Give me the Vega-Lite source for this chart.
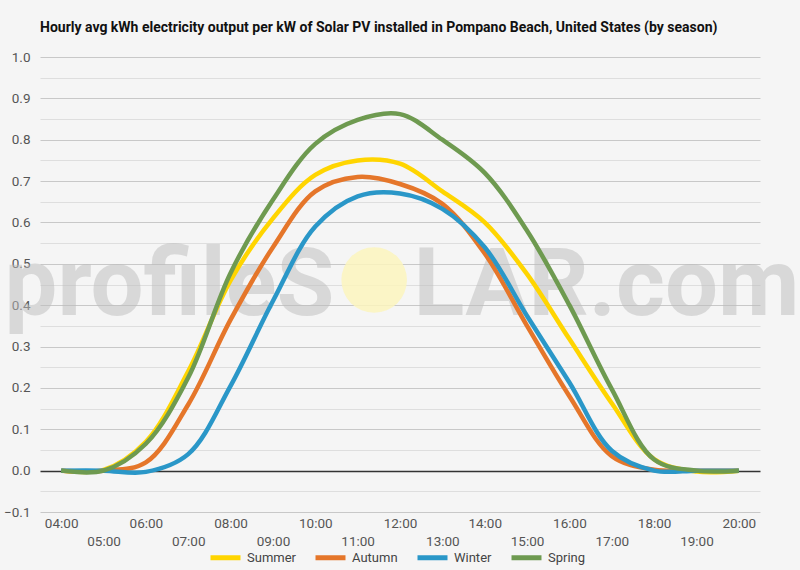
{
  "$schema": "https://vega.github.io/schema/vega-lite/v6.json",
  "width": 720,
  "height": 455,
  "autosize": {"type": "none"},
  "padding": {"left": 40, "top": 57, "right": 40, "bottom": 58},
  "background": "#f5f5f5",
  "title": {
    "text": "Hourly avg kWh electricity output per kW of Solar PV installed in Pompano Beach, United States (by season)",
    "anchor": "start",
    "frame": "group",
    "font": "Roboto",
    "fontSize": 14,
    "fontWeight": "bold",
    "color": "#111111",
    "offset": 15
  },
  "datasets": {
    "solar": [
      {"hour": 4, "season": "Summer", "kwh": 0},
      {"hour": 5, "season": "Summer", "kwh": 0.002},
      {"hour": 6, "season": "Summer", "kwh": 0.07},
      {"hour": 7, "season": "Summer", "kwh": 0.24},
      {"hour": 8, "season": "Summer", "kwh": 0.46},
      {"hour": 9, "season": "Summer", "kwh": 0.61},
      {"hour": 10, "season": "Summer", "kwh": 0.715},
      {"hour": 11, "season": "Summer", "kwh": 0.75},
      {"hour": 12, "season": "Summer", "kwh": 0.742},
      {"hour": 13, "season": "Summer", "kwh": 0.675},
      {"hour": 14, "season": "Summer", "kwh": 0.6},
      {"hour": 15, "season": "Summer", "kwh": 0.475},
      {"hour": 16, "season": "Summer", "kwh": 0.318},
      {"hour": 17, "season": "Summer", "kwh": 0.163},
      {"hour": 18, "season": "Summer", "kwh": 0.028},
      {"hour": 19, "season": "Summer", "kwh": -0.002},
      {"hour": 20, "season": "Summer", "kwh": 0},
      {"hour": 4, "season": "Autumn", "kwh": 0},
      {"hour": 5, "season": "Autumn", "kwh": 0},
      {"hour": 6, "season": "Autumn", "kwh": 0.02},
      {"hour": 7, "season": "Autumn", "kwh": 0.16},
      {"hour": 8, "season": "Autumn", "kwh": 0.365},
      {"hour": 9, "season": "Autumn", "kwh": 0.54},
      {"hour": 10, "season": "Autumn", "kwh": 0.675},
      {"hour": 11, "season": "Autumn", "kwh": 0.71},
      {"hour": 12, "season": "Autumn", "kwh": 0.693},
      {"hour": 13, "season": "Autumn", "kwh": 0.645},
      {"hour": 14, "season": "Autumn", "kwh": 0.525},
      {"hour": 15, "season": "Autumn", "kwh": 0.35},
      {"hour": 16, "season": "Autumn", "kwh": 0.18},
      {"hour": 17, "season": "Autumn", "kwh": 0.035},
      {"hour": 18, "season": "Autumn", "kwh": 0.002},
      {"hour": 19, "season": "Autumn", "kwh": 0},
      {"hour": 20, "season": "Autumn", "kwh": 0},
      {"hour": 4, "season": "Winter", "kwh": 0},
      {"hour": 5, "season": "Winter", "kwh": 0},
      {"hour": 6, "season": "Winter", "kwh": -0.003},
      {"hour": 7, "season": "Winter", "kwh": 0.04},
      {"hour": 8, "season": "Winter", "kwh": 0.205},
      {"hour": 9, "season": "Winter", "kwh": 0.41},
      {"hour": 10, "season": "Winter", "kwh": 0.59},
      {"hour": 11, "season": "Winter", "kwh": 0.663},
      {"hour": 12, "season": "Winter", "kwh": 0.67},
      {"hour": 13, "season": "Winter", "kwh": 0.633},
      {"hour": 14, "season": "Winter", "kwh": 0.54},
      {"hour": 15, "season": "Winter", "kwh": 0.374},
      {"hour": 16, "season": "Winter", "kwh": 0.213},
      {"hour": 17, "season": "Winter", "kwh": 0.048},
      {"hour": 18, "season": "Winter", "kwh": 0},
      {"hour": 19, "season": "Winter", "kwh": 0},
      {"hour": 20, "season": "Winter", "kwh": 0},
      {"hour": 4, "season": "Spring", "kwh": 0},
      {"hour": 5, "season": "Spring", "kwh": 0},
      {"hour": 6, "season": "Spring", "kwh": 0.065},
      {"hour": 7, "season": "Spring", "kwh": 0.225},
      {"hour": 8, "season": "Spring", "kwh": 0.478},
      {"hour": 9, "season": "Spring", "kwh": 0.655},
      {"hour": 10, "season": "Spring", "kwh": 0.79},
      {"hour": 11, "season": "Spring", "kwh": 0.848},
      {"hour": 12, "season": "Spring", "kwh": 0.862},
      {"hour": 13, "season": "Spring", "kwh": 0.8},
      {"hour": 14, "season": "Spring", "kwh": 0.72},
      {"hour": 15, "season": "Spring", "kwh": 0.58},
      {"hour": 16, "season": "Spring", "kwh": 0.4},
      {"hour": 17, "season": "Spring", "kwh": 0.197},
      {"hour": 18, "season": "Spring", "kwh": 0.027},
      {"hour": 19, "season": "Spring", "kwh": 0},
      {"hour": 20, "season": "Spring", "kwh": 0}
    ]
  },
  "encoding": {
    "x": {
      "field": "hour",
      "type": "quantitative",
      "scale": {"domain": [3.5, 20.5], "nice": false, "zero": false},
      "axis": {
        "title": null,
        "values": [4, 5, 6, 7, 8, 9, 10, 11, 12, 13, 14, 15, 16, 17, 18, 19, 20],
        "labelExpr": "datum.value % 2 == 1 ? ['', (datum.value < 10 ? '0' : '') + datum.value + ':00'] : (datum.value < 10 ? '0' : '') + datum.value + ':00'",
        "labelLineHeight": 18,
        "labelBaseline": "top",
        "labelOverlap": false,
        "labelFlush": false,
        "labelPadding": 4,
        "ticks": false,
        "domain": false,
        "grid": false
      }
    },
    "y": {
      "field": "kwh",
      "type": "quantitative",
      "scale": {"domain": [-0.1, 1.0], "nice": false, "zero": false},
      "axis": {
        "title": null,
        "values": [-0.1, -0.05, 0, 0.05, 0.1, 0.15, 0.2, 0.25, 0.3, 0.35, 0.4, 0.45, 0.5, 0.55, 0.6, 0.65, 0.7, 0.75, 0.8, 0.85, 0.9, 0.95, 1.0],
        "labelExpr": "abs(datum.value * 10 - round(datum.value * 10)) < 0.001 ? format(datum.value, '.1f') : ''",
        "labelPadding": 10,
        "ticks": false,
        "domain": false,
        "grid": true,
        "gridColor": {"condition": {"test": "abs(datum.value) < 0.0001", "value": "#333333"}, "value": "#c8c8c8"},
        "gridOpacity": {"condition": {"test": "abs(datum.value * 10 - round(datum.value * 10)) < 0.001", "value": 1}, "value": 0.5},
        "gridWidth": {"condition": {"test": "abs(datum.value) < 0.0001", "value": 1.5}, "value": 1}
      }
    }
  },
  "layer": [
    {
      "data": {"values": [{"hour": 10.45, "kwh": 0.377, "word": "profileS"}]},
      "mark": {"type": "text", "align": "right", "baseline": "alphabetic", "font": "Roboto", "fontSize": 94, "fontWeight": "bold", "color": "#bdbdbd", "opacity": 0.5},
      "encoding": {"text": {"field": "word"}}
    },
    {
      "data": {"values": [{"hour": 12.32, "kwh": 0.377, "word": "LAR.com"}]},
      "mark": {"type": "text", "align": "left", "baseline": "alphabetic", "font": "Roboto", "fontSize": 94, "fontWeight": "bold", "color": "#bdbdbd", "opacity": 0.5},
      "encoding": {"text": {"field": "word"}}
    },
    {
      "data": {"values": [{"hour": 11.39, "kwh": 0.461}]},
      "mark": {"type": "point", "filled": true, "size": 4300, "color": "#fbf4bd", "opacity": 0.85, "shape": "circle"}
    },
    {
      "data": {"name": "solar"},
      "mark": {"type": "line", "interpolate": "catmull-rom", "strokeWidth": 4.5},
      "encoding": {
        "color": {
          "field": "season",
          "type": "nominal",
          "scale": {
            "domain": ["Summer", "Autumn", "Winter", "Spring"],
            "range": ["#ffd500", "#e5762a", "#2a97c8", "#6e9a50"]
          },
          "legend": {
            "title": null,
            "orient": "none",
            "legendX": 168,
            "legendY": 483,
            "direction": "horizontal",
            "symbolType": "stroke",
            "symbolStrokeWidth": 5,
            "symbolSize": 900,
            "labelFont": "Roboto",
            "labelFontSize": 13,
            "labelColor": "#444444",
            "columnPadding": 9
          }
        },
        "sort": null
      }
    }
  ],
  "config": {
    "view": {"stroke": null},
    "axis": {"labelFont": "Roboto", "labelFontSize": 13.5, "labelColor": "#555555"}
  }
}
